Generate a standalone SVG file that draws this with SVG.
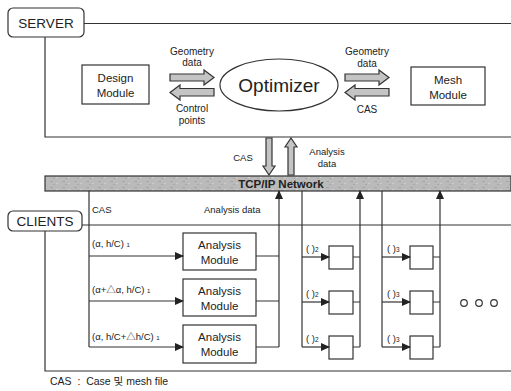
<svg xmlns="http://www.w3.org/2000/svg" width="511" height="391" viewBox="0 0 511 391">
<style>
text{font-family:"Liberation Sans","Noto Sans CJK KR",sans-serif;fill:#222}
tspan{fill:#222}
.ln{fill:none;stroke:#333;stroke-width:1.2}
.box{fill:#fff;stroke:#333;stroke-width:1.2}
.fat{fill:#c4c4c4;stroke:#333;stroke-width:1.2}
.s9{font-size:9.5px}
.s10{font-size:10px}
.s11{font-size:11.5px}
.s13{font-size:13.5px}
.c{text-anchor:middle}
</style>
<defs>
<marker id="ah" markerWidth="9" markerHeight="8" refX="8" refY="4" orient="auto" markerUnits="userSpaceOnUse">
<path d="M0,0 L9,4 L0,8 Z" fill="#222"/>
</marker>
<pattern id="noise" width="12" height="6" patternUnits="userSpaceOnUse">
<rect width="12" height="6" fill="#bababa"/>
<rect x="2" y="1" width="3" height="1" fill="#a6a6a6"/>
<rect x="8" y="3" width="2" height="1" fill="#d0d0d0"/>
<rect x="5" y="4" width="2" height="1" fill="#a8a8a8"/>
</pattern>
</defs>

<g id="frames">
<path class="ln" d="M84,23.5 H511 M45,37 V137 H511"/>
<path class="ln" d="M82,225 H511 M45,231 V371 H511"/>
</g>

<g id="server">
<rect class="box" x="8" y="8" width="76" height="29" rx="5"/>
<text class="s13 c" x="46" y="27.5">SERVER</text>
</g>

<g id="design">
<rect class="box" x="82" y="65" width="67" height="39"/>
<text class="s11 c" x="115.5" y="82">Design</text>
<text class="s11 c" x="115.5" y="97">Module</text>
</g>

<g id="optimizer">
<ellipse class="box" cx="279" cy="85" rx="59" ry="26"/>
<text class="c" style="font-size:19px" x="279" y="92">Optimizer</text>
</g>

<g id="mesh">
<rect class="box" x="411" y="67" width="74" height="38"/>
<text class="s11 c" x="448" y="84">Mesh</text>
<text class="s11 c" x="448" y="99">Module</text>
</g>

<g id="network">
<rect x="45" y="176" width="466" height="15" fill="url(#noise)" stroke="#333" stroke-width="1.2"/>
<text x="281" y="188" class="c" style="font-size:11.5px;font-weight:bold">TCP/IP Network</text>
</g>

<g id="clients">
<rect class="box" x="8" y="211" width="74" height="20" rx="5"/>
<text class="s13 c" x="45" y="226">CLIENTS</text>
</g>

<g id="analysis1">
<rect class="box" x="183" y="233" width="73" height="37"/>
<text class="s11 c" x="219.5" y="249">Analysis</text>
<text class="s11 c" x="219.5" y="264">Module</text>
</g>
<g id="analysis2">
<rect class="box" x="183" y="279" width="73" height="37"/>
<text class="s11 c" x="219.5" y="295">Analysis</text>
<text class="s11 c" x="219.5" y="310">Module</text>
</g>
<g id="analysis3">
<rect class="box" x="183" y="325" width="73" height="38"/>
<text class="s11 c" x="219.5" y="341">Analysis</text>
<text class="s11 c" x="219.5" y="356">Module</text>
</g>

<g id="b21"><rect class="box" x="329" y="246" width="24" height="23"/></g>
<g id="b22"><rect class="box" x="329" y="291" width="24" height="23"/></g>
<g id="b23"><rect class="box" x="329" y="336" width="24" height="23"/></g>
<g id="b31"><rect class="box" x="410" y="246" width="23" height="23"/></g>
<g id="b32"><rect class="box" x="410" y="291" width="23" height="23"/></g>
<g id="b33"><rect class="box" x="410" y="336" width="23" height="23"/></g>

<g id="connectors">
<path class="fat" d="M170,74 H204 V70 L214,77.5 L204,85 V81 H170 Z"/>
<path class="fat" d="M214,88.5 H180 V85 L170,92.5 L180,100 V96 H214 Z"/>
<path class="fat" d="M345,74 H379 V70 L389,77.5 L379,85 V81 H345 Z"/>
<path class="fat" d="M389,88.5 H355 V85 L345,92.5 L355,100 V96 H389 Z"/>
<path class="fat" d="M266,138 V166 H263 L269,175 L275,166 H272 V138 Z"/>
<path class="fat" d="M288,175 V147 H285 L291,138 L297,147 H294 V175 Z"/>
<path class="ln" d="M89,191 V347"/>
<path class="ln" d="M89,256 H183" marker-end="url(#ah)"/>
<path class="ln" d="M89,301 H183" marker-end="url(#ah)"/>
<path class="ln" d="M89,347 H183" marker-end="url(#ah)"/>
<path class="ln" d="M256,256 H279 M256,301 H279 M256,347 H279"/>
<path class="ln" d="M279,347 V191" marker-end="url(#ah)"/>
<path class="ln" d="M302,191 V347"/>
<path class="ln" d="M302,257 H329" marker-end="url(#ah)"/>
<path class="ln" d="M302,302 H329" marker-end="url(#ah)"/>
<path class="ln" d="M302,347 H329" marker-end="url(#ah)"/>
<path class="ln" d="M353,257 H360 M353,302 H360 M353,347 H360"/>
<path class="ln" d="M360,347 V191" marker-end="url(#ah)"/>
<path class="ln" d="M382,191 V347"/>
<path class="ln" d="M382,257 H410" marker-end="url(#ah)"/>
<path class="ln" d="M382,302 H410" marker-end="url(#ah)"/>
<path class="ln" d="M382,347 H410" marker-end="url(#ah)"/>
<path class="ln" d="M433,257 H440 M433,302 H440 M433,347 H440"/>
<path class="ln" d="M440,347 V191" marker-end="url(#ah)"/>
</g>

<g id="labels">
<text class="s10 c" x="192" y="55">Geometry</text>
<text class="s10 c" x="192" y="66">data</text>
<text class="s10 c" x="192" y="112">Control</text>
<text class="s10 c" x="192" y="124">points</text>
<text class="s10 c" x="367" y="55">Geometry</text>
<text class="s10 c" x="367" y="67">data</text>
<text class="s10 c" x="367" y="113">CAS</text>
<text class="s9 c" x="243" y="161">CAS</text>
<text class="s9 c" x="327" y="155">Analysis</text>
<text class="s9 c" x="327" y="167">data</text>
<text class="s9" x="92" y="213">CAS</text>
<text class="s9" x="204" y="213">Analysis data</text>
<text class="s9" x="92" y="247">(α, h/C) <tspan style="font-size:6px">1</tspan></text>
<text class="s9" x="92" y="293">(α+△α, h/C) <tspan style="font-size:6px">1</tspan></text>
<text class="s9" x="92" y="340">(α, h/C+△h/C) <tspan style="font-size:6px">1</tspan></text>
<text class="s9" x="306" y="252">( )<tspan style="font-size:6.5px">2</tspan></text>
<text class="s9" x="306" y="297">( )<tspan style="font-size:6.5px">2</tspan></text>
<text class="s9" x="306" y="342">( )<tspan style="font-size:6.5px">2</tspan></text>
<text class="s9" x="387" y="252">( )<tspan style="font-size:6.5px">3</tspan></text>
<text class="s9" x="387" y="297">( )<tspan style="font-size:6.5px">3</tspan></text>
<text class="s9" x="387" y="342">( )<tspan style="font-size:6.5px">3</tspan></text>
<text x="50" y="385" style="font-size:10.5px" xml:space="preserve">CAS  :  Case 및 mesh file</text>
</g>

<g id="more">
<circle cx="464" cy="303" r="3.3" fill="none" stroke="#333" stroke-width="1.2"/>
<circle cx="479" cy="303" r="3.3" fill="none" stroke="#333" stroke-width="1.2"/>
<circle cx="494" cy="303" r="3.3" fill="none" stroke="#333" stroke-width="1.2"/>
</g>
</svg>
